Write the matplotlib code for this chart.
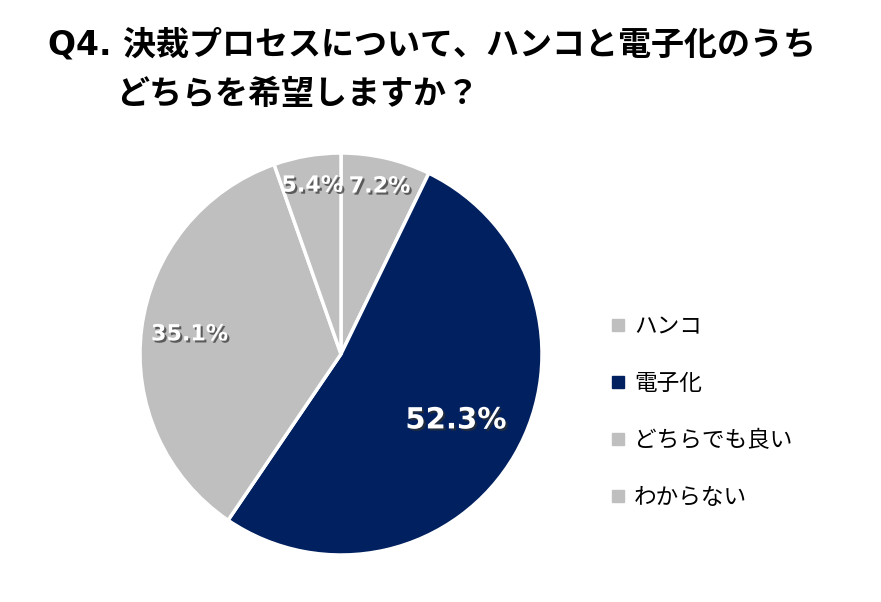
import matplotlib.pyplot as plt
import matplotlib.patheffects as pe
from matplotlib.lines import Line2D
import numpy as np

categories = ['ハンコ', '電子化', 'どちらでも良い', 'わからない']
values = [7.2, 52.3, 35.1, 5.4]
colors = ['#BFBFBF', '#002060', '#BFBFBF', '#BFBFBF']
title_line1 = 'Q4. 決裁プロセスについて、ハンコと電子化のうち'
title_line2 = 'どちらを希望しますか？'

plt.rcParams['font.family'] = ['Noto Sans CJK JP', 'DejaVu Sans']

fig = plt.figure(figsize=(8.81, 6.02), dpi=100, facecolor='white')
ax = fig.add_axes([140 / 881, 47 / 602, 402 / 881, 402 / 602])

wedges, _ = ax.pie(values, colors=colors, startangle=90, counterclock=False,
                   radius=1.0, wedgeprops=dict(edgecolor='white', linewidth=2.5))
ax.set_xlim(-1, 1)
ax.set_ylim(-1, 1)
ax.set_aspect('equal')
ax.axis('off')

# percentage labels, white with a dark shadow
dists = [0.855, 0.66, 0.76, 0.85]
sizes = [16, 21, 16, 16]
shadow = [pe.SimplePatchShadow(offset=(1.5, -1.5), shadow_rgbFace='#303030', alpha=0.7), pe.Normal()]
for w, v, d, s in zip(wedges, values, dists, sizes):
    ang = np.deg2rad((w.theta1 + w.theta2) / 2)
    ax.text(d * np.cos(ang), d * np.sin(ang), f'{v:.1f}%', ha='center', va='center',
            color='white', fontsize=s, fontweight='bold', family='DejaVu Sans',
            path_effects=shadow)

# title
tfam = ['DejaVu Sans', 'Noto Sans CJK JP']
fig.text(48 / 881, 1 - 45 / 602, title_line1, fontsize=23.8, fontweight='bold',
         va='center', ha='left', color='black', family=tfam)
fig.text(116 / 881, 1 - 94 / 602, title_line2, fontsize=23.8, fontweight='bold',
         va='center', ha='left', color='black', family=tfam)

# legend
handles = [Line2D([], [], marker='s', linestyle='none', markersize=8,
                  markerfacecolor=c, markeredgecolor=c) for c in colors]
fig.legend(handles, categories, loc='center left', bbox_to_anchor=(600 / 881, 1 - 412 / 602),
           frameon=False, fontsize=16.3, labelspacing=1.5, handlelength=0.8,
           handletextpad=0.3, borderaxespad=0)

fig.savefig('out.png', dpi=100, facecolor='white')
